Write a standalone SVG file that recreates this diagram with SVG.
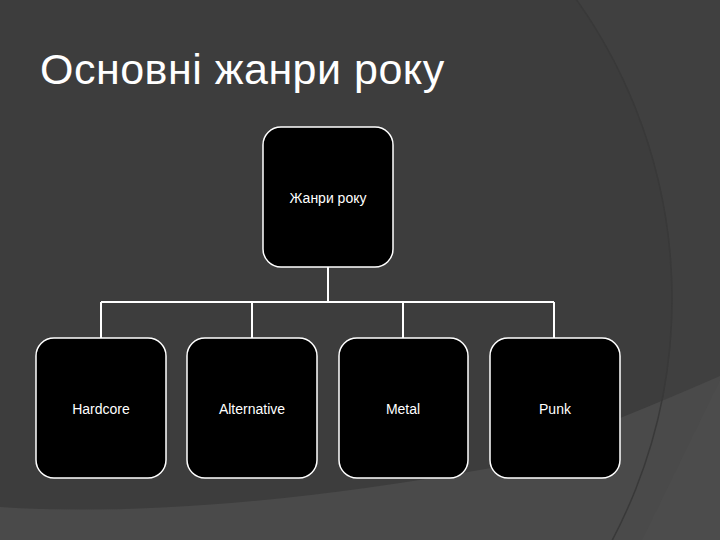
<svg xmlns="http://www.w3.org/2000/svg" width="720" height="540" viewBox="0 0 720 540">
<style>
.bg{fill:#3d3d3d}
.node rect{fill:#000;stroke:#fff;stroke-width:1.5}
.node text{fill:#fff;font-family:"Liberation Sans",Arial,sans-serif;font-size:14px;text-anchor:middle}
.title{fill:#fff;font-family:"Liberation Sans",Arial,sans-serif;font-size:43px;letter-spacing:0.5px}
#connectors path{fill:none;stroke:#fff;stroke-width:2}
</style>
<rect class="bg" x="0" y="0" width="720" height="540"/>
<path d="M577,0 L720,0 L720,540 L613,540 A516,516 0 0 0 577,0 Z" fill="#404040"/>
<path d="M0,507 Q200,520 491,468 Q620,420 720,376 L720,540 L0,540 Z" fill="#4a4a4a"/>
<circle cx="156" cy="299" r="516" fill="none" stroke="#393939" stroke-width="1.5"/>
<path d="M642,540 L720,380 L720,540 Z" fill="#4d4d4d" opacity="0.5"/>
<text class="title" x="40" y="84">Основні жанри року</text>
<g id="connectors">
<path d="M328,267 V302 M101,302 H554 M101,302 V338 M252,302 V338 M403,302 V338 M554,302 V338"/>
</g>
<g id="root" class="node"><rect x="263" y="127" width="130" height="140" rx="18"/><text x="328" y="203">Жанри року</text></g>
<g id="hardcore" class="node"><rect x="36" y="338" width="130" height="140" rx="18"/><text x="101" y="414">Hardcore</text></g>
<g id="alternative" class="node"><rect x="187" y="338" width="130" height="140" rx="18"/><text x="252" y="414">Alternative</text></g>
<g id="metal" class="node"><rect x="339" y="338" width="129" height="140" rx="18"/><text x="403" y="414">Metal</text></g>
<g id="punk" class="node"><rect x="490" y="338" width="130" height="140" rx="18"/><text x="555" y="414">Punk</text></g>
</svg>
